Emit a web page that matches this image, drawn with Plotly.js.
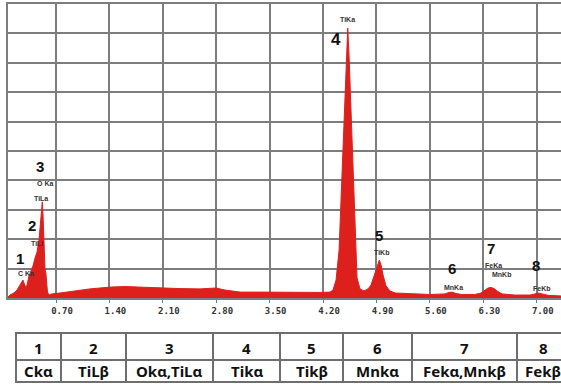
<!DOCTYPE html>
<html>
<head>
<meta charset="utf-8">
<script src="https://cdn.plot.ly/plotly-3.0.1.min.js"></script>
<style>
html,body{margin:0;padding:0;overflow:hidden;background:#fff;width:561px;height:384px;}
#chart{width:580px;height:384px;}
</style>
</head>
<body>
<div id="chart"></div>
<script>
// EDS spectrum: energy (keV) and intensity (counts, arbitrary units)
const energy = [0.07,0.097,0.149,0.189,0.228,0.254,0.267,0.28,0.307,0.32,0.346,0.372,0.398,0.425,0.451,0.477,0.497,0.51,0.52,0.53,0.543,0.556,0.566,0.575,0.588,0.608,0.647,0.752,0.949,1.146,1.408,1.604,1.80,2.063,2.325,2.587,2.72,2.797,2.915,3.112,3.374,3.636,3.898,4.16,4.291,4.33,4.37,4.41,4.435,4.46,4.481,4.501,4.523,4.54,4.56,4.58,4.605,4.625,4.645,4.684,4.736,4.789,4.828,4.868,4.907,4.937,4.96,4.986,5.025,5.077,5.143,5.34,5.601,5.798,5.85,5.89,5.942,6.02,6.19,6.27,6.322,6.362,6.401,6.44,6.48,6.545,6.716,6.912,6.978,7.018,7.07,7.148,7.318,7.567];
const counts = [3,10,17,27,44,58,61,51,34,44,75,92,109,136,156,197,258,306,327,282,180,95,88,44,20,10,14,17,24,31,37,39,37,34,32,31,32,34,27,20,20,19,19,19,20,27,61,163,333,503,673,810,918,827,673,503,333,163,68,31,24,31,44,75,109,129,112,78,41,24,17,14,12,14,19,20,15,12,12,17,27,34,36,32,24,14,10,10,14,17,14,9,7,7];

const tickValues = [0.70,1.40,2.10,2.80,3.50,4.20,4.90,5.60,6.30,7.00];
const tickLabels = ["0.70","1.40","2.10","2.80","3.50","4.20","4.90","5.60","6.30","7.00"];

// Peak labels on the spectrum
const peakNumbers = ["1","2","3","4","5","6","7","8"];
const peakNumberE = [0.222,0.385,0.49,4.37,4.933,5.886,6.401,6.991];
const peakNumberC = [136,245,446,878,211,101,169,112];
const lineNames = ["C Ka","TiLl","O Ka","TiLa","TiKa","TiKb","MnKa","FeKa","MnKb","FeKb"];
const lineNameE = [0.307,0.451,0.556,0.503,4.523,4.968,5.903,6.427,6.541,7.066];
const lineNameC = [85,184,388,340,946,154,35,112,81,33];

// Table below the chart
const tableNumbers = ["1","2","3","4","5","6","7","8"];
const tableLines = ["Ckα","TiLβ","Okα,TiLα","Tikα","Tikβ","Mnkα","Fekα,Mnkβ","Fekβ"];
const tableWidths = [45,65,87,67,63,69,105,52];

const W = 580, H = 384;
const red = "rgb(222,32,28)";
const grid = "#7d7d7d";

const spectrum = {
  type: "scatter", mode: "lines",
  x: energy, y: counts,
  fill: "tozeroy", fillcolor: red,
  line: {color: red, width: 1, shape: "linear"},
  xaxis: "x", yaxis: "y", hoverinfo: "skip"
};

const annotations = [];
peakNumbers.forEach((t, i) => annotations.push({
  x: peakNumberE[i], y: peakNumberC[i], xref: "x", yref: "y",
  xanchor: "center", yanchor: "middle",
  text: "<b>" + t + "</b>", showarrow: false,
  font: {family: "Liberation Sans", size: t === "4" ? 17 : 15, color: "#111"}
}));
lineNames.forEach((t, i) => annotations.push({
  x: lineNameE[i], y: lineNameC[i], xref: "x", yref: "y",
  xanchor: "center", yanchor: "middle",
  text: "<b>" + t + "</b>", showarrow: false,
  font: {family: "Liberation Sans", size: 7, color: "#333"}
}));

// table drawn with shapes + annotations in paper coordinates
const px = v => v / W;
const py = v => 1 - v / H;
const tLeft = 16, tTop = 333, tMid = 360, tBot = 382;
const tblColor = "#6e6e6e";
const shapes = [];
const edges = [tLeft];
tableWidths.forEach(w => edges.push(edges[edges.length - 1] + w));
for (let i = 0; i < tableWidths.length; i++) {
  [[tTop, tMid], [tMid, tBot]].forEach(([a, b]) => shapes.push({
    type: "rect", xref: "paper", yref: "paper",
    x0: px(edges[i]), x1: px(edges[i + 1]), y0: py(b), y1: py(a),
    line: {color: tblColor, width: 2}, fillcolor: "rgba(0,0,0,0)"
  }));
  const cx = px((edges[i] + edges[i + 1]) / 2);
  annotations.push({
    x: cx, y: py((tTop + tMid) / 2 + 1), xref: "paper", yref: "paper",
    xanchor: "center", yanchor: "middle",
    text: "<b>" + tableNumbers[i] + "</b>", showarrow: false,
    font: {family: "Noto Sans", size: 15, color: "#111"}
  });
  annotations.push({
    x: cx, y: py((tMid + tBot) / 2), xref: "paper", yref: "paper",
    xanchor: "center", yanchor: "middle",
    text: "<b>" + tableLines[i] + "</b>", showarrow: false,
    font: {family: "Noto Sans", size: 15, color: "#111"}
  });
}

const layout = {
  width: W, height: H,
  margin: {l: 0, r: 0, t: 0, b: 0},
  paper_bgcolor: "#fff", plot_bgcolor: "#fff",
  showlegend: false,
  xaxis: {
    domain: [8/W, 1],
    range: [0.0708, 7.567],
    tickvals: tickValues, ticktext: tickLabels.map(t => "<b>" + t + "</b>"),
    tickfont: {family: "DejaVu Sans Mono", size: 9, color: "#333"},
    ticklabelshift: 6,
    ticks: "outside", ticklen: 3, tickcolor: grid, tickwidth: 1,
    showgrid: true, gridcolor: grid, gridwidth: 2,
    showline: true, linecolor: grid, linewidth: 2, mirror: true,
    zeroline: false, fixedrange: true
  },
  yaxis: {
    domain: [1 - 298/H, 1 - 4/H],
    range: [0, 1000],
    dtick: 100, tick0: 0,
    showticklabels: false, ticks: "",
    showgrid: true, gridcolor: grid, gridwidth: 2,
    showline: true, linecolor: grid, linewidth: 2, mirror: true,
    zeroline: false, fixedrange: true
  },
  shapes: shapes,
  annotations: annotations
};

Plotly.newPlot("chart", [spectrum], layout, {staticPlot: true, displayModeBar: false});
</script>
</body>
</html>
